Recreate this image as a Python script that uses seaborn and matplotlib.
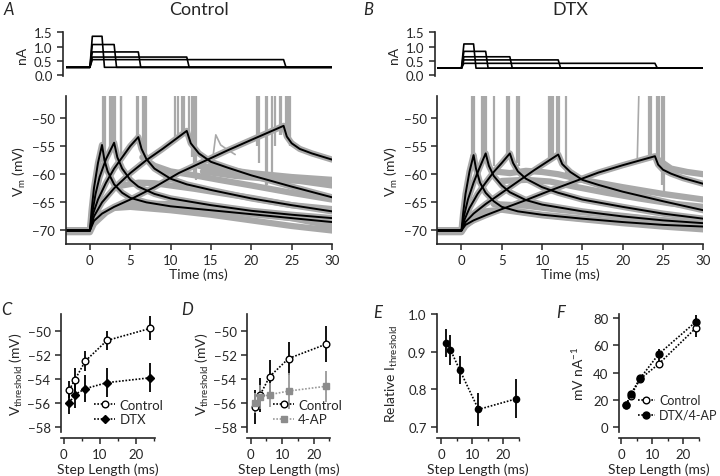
import numpy as np
import pandas as pd
import matplotlib
matplotlib.use('Agg')
import matplotlib.pyplot as plt
import seaborn as sns

sns.set_style('ticks')
plt.rcParams['font.family'] = ['Lato', 'DejaVu Sans']
plt.rcParams['mathtext.fontset'] = 'custom'
plt.rcParams['mathtext.rm'] = 'Lato'
plt.rcParams['mathtext.it'] = 'Lato:italic'
plt.rcParams['axes.linewidth'] = 1.2
plt.rcParams['xtick.major.width'] = 1.1
plt.rcParams['ytick.major.width'] = 1.1
plt.rcParams['xtick.minor.width'] = 1.0
plt.rcParams['xtick.major.size'] = 4
plt.rcParams['ytick.major.size'] = 4
plt.rcParams['xtick.minor.size'] = 2.5
plt.rcParams['xtick.labelsize'] = 9.5
plt.rcParams['ytick.labelsize'] = 9.5
plt.rcParams['axes.labelsize'] = 10

# ---- current steps (nA) ----
step_len = [1.5, 3, 6, 12, 24]
ctrl_amp = [1.36, 1.07, 0.81, 0.63, 0.54]
dtx_amp = [1.09, 0.83, 0.64, 0.53, 0.41]
ctrl_base = 0.27
dtx_base = 0.24

# ---- control: averaged Vm traces (black) ----
c15_t = [-3, 0, 0.2, 0.5, 1.0, 1.5, 1.8, 2.2, 3, 4, 5, 7, 10, 15, 20, 25, 30]
c15_v = [-70, -70, -66.5, -62.5, -58, -54.8, -57.5, -59.5, -61.8, -63.3, -64.2, -65, -65.7, -66.4, -67.1, -67.8, -68.5]
c3_t = [-3, 0, 0.3, 0.7, 1.2, 2, 3, 3.4, 4, 5, 6, 8, 10, 15, 20, 25, 30]
c3_v = [-70, -70, -66.8, -63.5, -60.5, -57.3, -54.4, -57, -59, -61, -62.2, -63.5, -64.3, -65.5, -66.5, -67.2, -67.8]
c6_t = [-3, 0, 0.4, 1, 2, 3, 4, 5, 6, 6.4, 7, 8, 10, 12, 15, 20, 25, 30]
c6_v = [-70, -70, -67, -64.5, -61.5, -59, -57, -55, -53.4, -55.5, -57.3, -59, -60.8, -61.8, -62.8, -64.3, -65.5, -66.6]
c12_t = [-3, 0, 0.5, 1.5, 3, 5, 7, 9, 12, 12.5, 13.5, 15, 17, 20, 25, 30]
c12_v = [-70, -70, -67.5, -65, -62.5, -59.8, -57.5, -55.5, -52.3, -54.5, -56.3, -57.8, -58.8, -60.2, -62.2, -64.1]
c24_t = [-3, 0, 0.5, 1.5, 3, 5, 8, 11, 14, 17, 20, 24, 24.4, 25, 26, 27.5, 30]
c24_v = [-70, -70, -68.3, -67, -65.8, -64.5, -62.3, -59.8, -57.8, -55.8, -53.9, -51.4, -53.3, -54.5, -55.5, -56.3, -57.4]

# ---- DTX: averaged Vm traces (black) ----
d15_t = [-3, 0, 0.2, 0.5, 1.0, 1.5, 1.8, 2.3, 3, 4, 5, 7, 10, 15, 20, 25, 30]
d15_v = [-70, -70, -67, -63.5, -59.5, -56.6, -59, -61.5, -63.3, -64.8, -65.8, -66.6, -67.2, -67.9, -68.5, -69, -69.3]
d3_t = [-3, 0, 0.3, 0.8, 1.5, 2.2, 3, 3.4, 4, 5, 6, 8, 10, 15, 20, 25, 30]
d3_v = [-70, -70, -67.5, -64.5, -61.5, -59, -56.3, -58.5, -60.3, -62, -63.2, -64.6, -65.4, -66.6, -67.5, -68.2, -68.7]
d6_t = [-3, 0, 0.4, 1, 2, 3, 4, 5, 6, 6.4, 7, 8, 10, 12, 15, 20, 25, 30]
d6_v = [-70, -70, -68, -66, -63.5, -61.5, -59.6, -58, -56.3, -58, -59.5, -60.8, -62.3, -63.3, -64.5, -65.8, -67, -67.9]
d12_t = [-3, 0, 0.5, 1.5, 3, 5, 7, 9, 12, 12.5, 13.5, 15, 17, 20, 25, 30]
d12_v = [-70, -70, -68.5, -67, -65.3, -63.3, -61.3, -59.3, -56.5, -58.2, -59.6, -61, -61.9, -63.1, -64.8, -66.4]
d24_t = [-3, 0, 0.5, 1.5, 3, 5, 8, 11, 14, 17, 20, 24, 24.4, 25, 26, 27.5, 30]
d24_v = [-70, -70, -69, -68.2, -67.3, -66.2, -64.6, -62.9, -61.3, -59.7, -58.4, -56.8, -58.3, -59.2, -59.9, -60.7, -61.7]

# ---- individual sweeps that stray from the averages (grey) ----
cg_low_t = [-3, 0, 0.5, 2, 3, 5, 10, 15, 20, 25, 30]
cg_low_v = [-70.3, -70.3, -68.8, -66.8, -66, -65.8, -66.4, -67.2, -68.2, -69.2, -70]
cg_low2_t = [5, 10, 15, 20, 25, 30]
cg_low2_v = [-65.2, -65.3, -66, -66.8, -67.8, -69.2]
cg_mid_t = [6.5, 8, 10, 13, 16, 20, 25, 30]
cg_mid_v = [-57, -58.5, -59.5, -60.2, -61, -62, -63.3, -64.5]
cg_mid2_t = [4, 6, 8, 10, 13, 16, 20, 25, 30]
cg_mid2_v = [-62, -61.5, -61.6, -62, -62.6, -63.3, -64.2, -65.5, -66.2]
cg_up_t = [13.5, 16, 20, 25, 30]
cg_up_v = [-58.5, -59, -59.8, -60.5, -61]
cg_up2_t = [14, 18, 22, 26, 30]
cg_up2_v = [-59.5, -60.3, -60.8, -61.2, -62]
cg_bump_t = [15.2, 15.6, 16.2, 17, 18]
cg_bump_v = [-57.5, -53, -54.8, -55.6, -56.5]

dg_low_t = [-3, 0, 0.5, 2, 3, 5, 10, 15, 20, 25, 30]
dg_low_v = [-70.3, -70.3, -69.2, -67.5, -66.6, -66.3, -67.3, -68, -68.7, -69.3, -69.8]
dg_low2_t = [4, 8, 12, 16, 20, 25, 30]
dg_low2_v = [-65.3, -65.6, -66.3, -66.9, -67.4, -68.2, -68.9]
dg_mid_t = [4, 6, 8, 10, 12, 15, 20, 25, 30]
dg_mid_v = [-59.5, -59.8, -59.4, -59.6, -60, -61, -62.3, -63.5, -64.5]
dg_mid2_t = [5, 8, 11, 14, 18, 22, 26, 30]
dg_mid2_v = [-61.2, -61, -61.3, -62.2, -63.3, -64.3, -65.2, -65.8]
dg_up_t = [24.5, 26, 28, 30]
dg_up_v = [-57.5, -59, -59.6, -60]
dg_bump_t = [21.8, 22.0]
dg_bump_v = [-58, -46]

# ---- spikes: time (ms) and lowest voltage of the grey excursion ----
c_spk_t = [1.6, 1.75, 1.9, 2.5, 2.7, 2.9, 3.1, 3.8, 3.9, 5.8, 6.0, 6.6, 6.8, 6.9,
           10.5, 10.9, 11.4, 11.7, 12.3, 12.6, 12.9, 13.1,
           20.7, 21.0, 21.8, 22.0, 22.6, 22.9, 23.5, 23.7, 24.3, 24.5, 24.8]
c_spk_v = [-56, -56, -56, -55.5, -55.5, -55, -55.5, -57, -57, -54.5, -54, -57, -57, -57,
           -54, -53.5, -53, -53, -53, -57, -60, -61,
           -55, -58, -62.5, -62, -60, -55, -53, -53, -53, -54, -55]
d_spk_t = [1.3, 1.5, 2.6, 2.8, 3.0, 4.0, 5.7, 5.9, 6.9, 7.1,
           10.8, 11.1, 11.3, 11.8, 12.1, 13.0, 23.3, 23.5, 24.3, 24.5, 24.9, 25.1]
d_spk_v = [-57, -57, -57, -57, -57, -58.5, -57, -57, -58, -58.5,
           -58, -57.5, -57.5, -57, -57, -60, -57.5, -57.5, -57.5, -58, -62, -63]

# ---- summary panels ----
lens = [1.5, 3, 6, 12, 24]
C_ctrl = [-54.9, -54.1, -52.5, -50.8, -49.8]
C_ctrl_err = [0.7, 1.0, 0.8, 0.8, 1.0]
C_dtx = [-56.0, -55.3, -54.8, -54.3, -53.9]
C_dtx_err = [0.9, 1.1, 1.1, 1.2, 1.2]
D_ctrl = [-56.3, -55.3, -53.8, -52.3, -51.1]
D_ctrl_err = [1.4, 1.4, 1.4, 1.4, 1.5]
D_4ap = [-56.0, -55.5, -55.3, -55.0, -54.6]
D_4ap_err = [0.8, 1.0, 1.0, 1.5, 1.3]
E_rel = [0.922, 0.905, 0.851, 0.746, 0.774]
E_err = [0.037, 0.04, 0.038, 0.045, 0.052]
F_ctrl = [16.2, 22.9, 35.2, 46.3, 72.9]
F_ctrl_err = [1.5, 1.5, 2.0, 3.0, 7.0]
F_blk = [16.2, 24.1, 35.7, 53.6, 77.5]
F_blk_err = [1.5, 2.0, 2.0, 4.0, 5.0]

GREY = '#a9a9a9'
W, H = 720, 477


def rect(l, t, r, b):
    return [l / W, 1 - b / H, (r - l) / W, (b - t) / H]


def long_df(pairs):
    rows = []
    for k, (tt, vv) in enumerate(pairs):
        for a, b in zip(tt, vv):
            rows.append((k, a, b))
    return pd.DataFrame(rows, columns=['sweep', 't', 'v'])


def traces(ax, pairs, color, lw):
    sns.lineplot(data=long_df(pairs), x='t', y='v', units='sweep', estimator=None,
                 sort=False, color=color, lw=lw, ax=ax)


def current_panel(ax, amps, base):
    pairs = []
    for dur, amp in zip(step_len, amps):
        pairs.append(([-3, 0, 0.3, dur, dur + 0.3, 30], [base, base, amp, amp, base, base]))
    traces(ax, pairs, 'k', 1.2)
    ax.set_xlim(-3, 30)
    ax.set_ylim(-0.035, 1.51)
    ax.set_yticks([0, 0.5, 1.0, 1.5])
    ax.set_yticklabels(['0.0', '0.5', '1.0', '1.5'])
    ax.set_xticks([])
    ax.set_xlabel('')
    ax.set_ylabel('nA', labelpad=4)
    sns.despine(ax=ax, bottom=True)
    ax.spines['left'].set_position(('outward', 2))


def vm_panel(ax, black, extra, thin, spk_t, spk_v):
    traces(ax, black, GREY, 4.5)
    traces(ax, extra, GREY, 4.5)
    traces(ax, thin, GREY, 1.2)
    ax.vlines(spk_t, spk_v, -40, color=GREY, lw=1.6)
    traces(ax, black, 'k', 1.4)
    ax.set_xlim(-3, 30)
    ax.set_ylim(-72.4, -46.1)
    ax.set_xticks([0, 5, 10, 15, 20, 25, 30])
    ax.set_yticks([-70, -65, -60, -55, -50])
    ax.set_xlabel('Time (ms)', labelpad=1)
    ax.set_ylabel(r'V$_\mathrm{m}$ (mV)', labelpad=3)
    sns.despine(ax=ax)


fig = plt.figure(figsize=(7.2, 4.77), dpi=100)

axA_i = fig.add_axes(rect(65.7, 33, 332, 77))
axA = fig.add_axes(rect(65.7, 97, 332, 245))
axB_i = fig.add_axes(rect(437.3, 33, 703.3, 77))
axB = fig.add_axes(rect(437.3, 97, 703.3, 245))

current_panel(axA_i, ctrl_amp, ctrl_base)
current_panel(axB_i, dtx_amp, dtx_base)

vm_panel(axA,
         [(c15_t, c15_v), (c3_t, c3_v), (c6_t, c6_v), (c12_t, c12_v), (c24_t, c24_v)],
         [(cg_low_t, cg_low_v), (cg_low2_t, cg_low2_v), (cg_mid_t, cg_mid_v),
          (cg_mid2_t, cg_mid2_v), (cg_up_t, cg_up_v), (cg_up2_t, cg_up2_v)],
         [(cg_bump_t, cg_bump_v)],
         c_spk_t, c_spk_v)
vm_panel(axB,
         [(d15_t, d15_v), (d3_t, d3_v), (d6_t, d6_v), (d12_t, d12_v), (d24_t, d24_v)],
         [(dg_low_t, dg_low_v), (dg_low2_t, dg_low2_v), (dg_mid_t, dg_mid_v),
          (dg_mid2_t, dg_mid2_v), (dg_up_t, dg_up_v)],
         [(dg_bump_t, dg_bump_v)],
         d_spk_t, d_spk_v)

axA_i.set_title('Control', fontsize=13, pad=13)
axB_i.set_title('DTX', fontsize=13, pad=13)

# ---- summary panels ----
axC = fig.add_axes(rect(61, 315, 155, 433))
axD = fig.add_axes(rect(247, 315, 330, 433))
axE = fig.add_axes(rect(437, 315, 519, 433))
axF = fig.add_axes(rect(619, 315, 699, 433))


def series(ax, y, err, face, edge, marker, ms, label=None, lcol='k'):
    ax.errorbar(lens, y, yerr=err, fmt='none', ecolor=lcol, elinewidth=1.3, capsize=0,
                clip_on=False, zorder=2)
    sns.lineplot(x=lens, y=y, ax=ax, color=lcol, lw=1.2, linestyle=(0, (1, 1)),
                 marker=marker, markersize=ms, markerfacecolor=face, markeredgecolor=edge,
                 markeredgewidth=1.0, label=label, clip_on=False, zorder=3)


series(axC, C_ctrl, C_ctrl_err, 'white', 'k', 'o', 4.8, 'Control')
series(axC, C_dtx, C_dtx_err, 'k', 'k', 'D', 4.0, 'DTX')
series(axD, D_ctrl, D_ctrl_err, 'white', 'k', 'o', 4.8, 'Control')
series(axD, D_4ap, D_4ap_err, '#8c8c8c', '#8c8c8c', 's', 4.5, '4-AP', lcol='#999999')
series(axE, E_rel, E_err, 'k', 'k', 'o', 4.5)
series(axF, F_ctrl, F_ctrl_err, 'white', 'k', 'o', 4.8, 'Control')
series(axF, F_blk, F_blk_err, 'k', 'k', 'o', 5.0, 'DTX/4-AP')

for ax, xl in [(axC, (-0.8, 25.4)), (axD, (-1.2, 25.2)), (axE, (-1.3, 24.9)), (axF, (-0.8, 24.8))]:
    ax.set_xlim(*xl)
    ax.set_xticks([0, 10, 20])
    ax.set_xticks([5, 15, 25], minor=True)
    ax.set_xlabel('Step Length (ms)', labelpad=2)
    sns.despine(ax=ax)
    ax.spines['bottom'].set_position(('outward', 4))

leg_kw = dict(frameon=False, handletextpad=0.3,
              labelspacing=0.2, borderpad=0.1, loc='lower left')

for ax in (axC, axD):
    ax.set_ylim(-58.4, -48.6)
    ax.set_yticks([-58, -56, -54, -52, -50])
    ax.set_ylabel(r'V$_\mathrm{threshold}$ (mV)', labelpad=2)
axC.legend(bbox_to_anchor=(0.27, -0.01), fontsize=9.5, handlelength=1.6, **leg_kw)
axD.legend(bbox_to_anchor=(0.22, -0.01), fontsize=9.5, handlelength=1.6, **leg_kw)

axE.set_ylim(0.686, 1.0)
axE.set_yticks([0.7, 0.8, 0.9, 1.0])
axE.set_yticklabels(['0.7', '0.8', '0.9', '1.0'])
axE.set_ylabel(r'Relative I$_\mathrm{threshold}$', labelpad=6)

axF.set_ylim(-3.9, 83.2)
axF.set_yticks([0, 20, 40, 60, 80])
axF.set_ylabel(r'mV nA$^{-1}$', labelpad=5)
axF.legend(bbox_to_anchor=(0.14, 0.03), fontsize=9, handlelength=1.4, **leg_kw)

# panel letters
for letter, x, y in [('A', 4, 2), ('B', 363, 2), ('C', 1, 302), ('D', 181, 302),
                     ('E', 373, 305), ('F', 556, 305)]:
    fig.text(x / W, 1 - y / H, letter, fontsize=12, style='italic', va='top', ha='left')

fig.savefig('out.png', dpi=100)
